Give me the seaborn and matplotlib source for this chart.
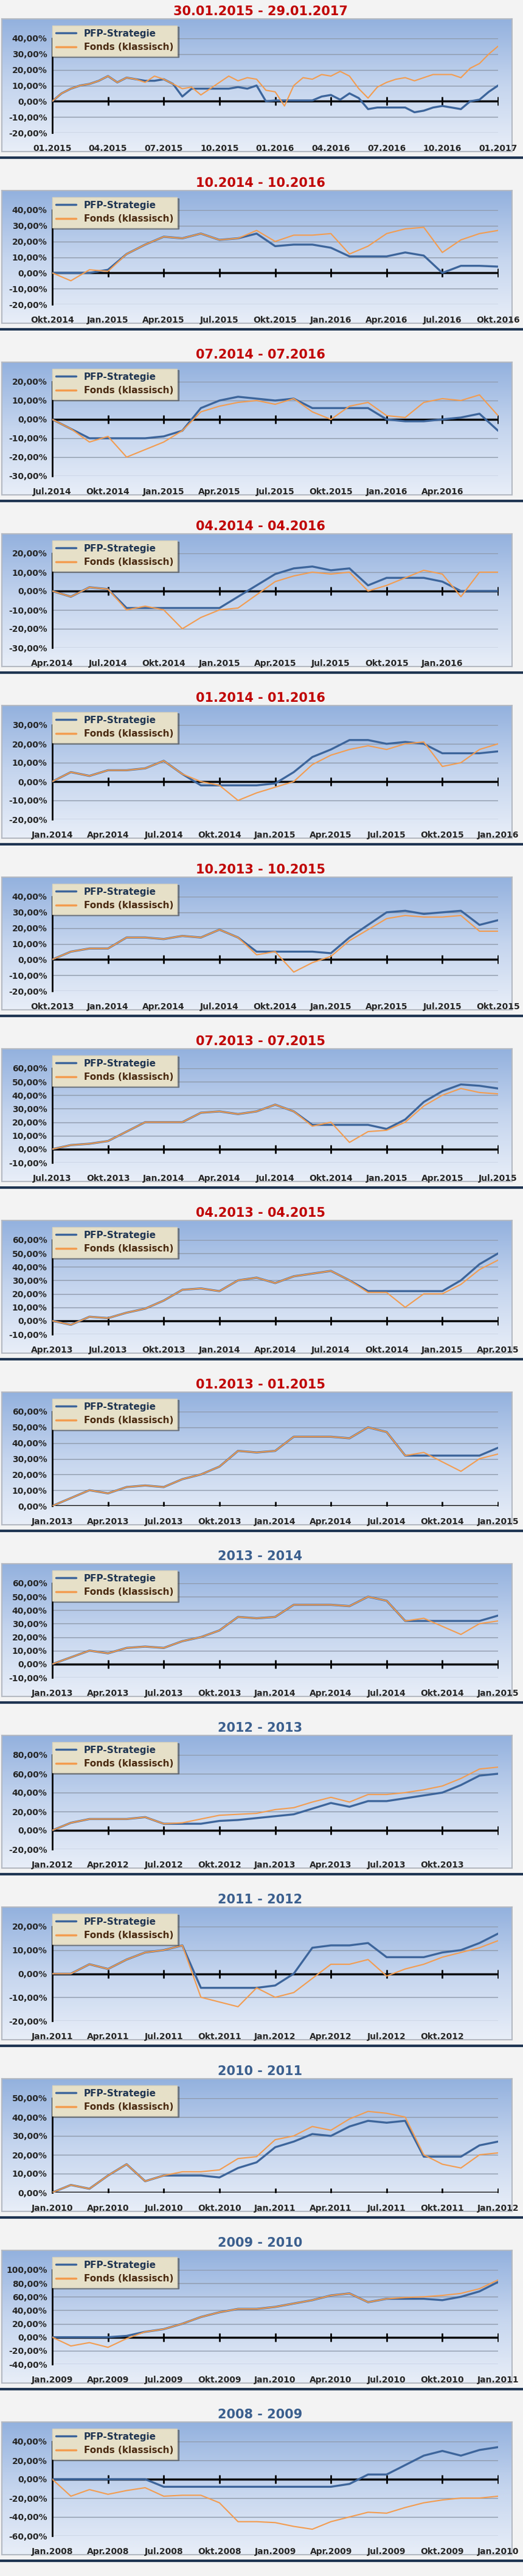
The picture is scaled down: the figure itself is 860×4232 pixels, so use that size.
import numpy as np
import matplotlib
matplotlib.use("Agg")
import matplotlib.pyplot as plt
import seaborn as sns
from matplotlib.colors import LinearSegmentedColormap

sns.set_style("white")
plt.rcParams['font.family'] = ['Liberation Sans Narrow', 'DejaVu Sans']

titles = ["30.01.2015 - 29.01.2017", "10.2014 - 10.2016", "07.2014 - 07.2016", "04.2014 - 04.2016",
          "01.2014 - 01.2016", "10.2013 - 10.2015", "07.2013 - 07.2015", "04.2013 - 04.2015",
          "01.2013 - 01.2015", "2013 - 2014", "2012 - 2013", "2011 - 2012", "2010 - 2011",
          "2009 - 2010", "2008 - 2009"]
title_colors = ["#c00000"] * 9 + ["#3b5f8e"] * 6

def q(prefix, y0, fmt):
    mons = {"num": ["01", "04", "07", "10"], "de": ["Jan.", "Apr.", "Jul.", "Okt."]}[fmt]
    start = {"01": 0, "04": 1, "07": 2, "10": 3}[prefix]
    out = []
    for k in range(9):
        idx = start + k
        m = mons[idx % 4]
        y = y0 + idx // 4
        out.append(f"{m}.{y}" if fmt == "num" else f"{m}{y}")
    return out

xlabels = [
    ["01.2015", "04.2015", "07.2015", "10.2015", "01.2016", "04.2016", "07.2016", "10.2016", "01.2017"],
    ["Okt.2014", "Jan.2015", "Apr.2015", "Jul.2015", "Okt.2015", "Jan.2016", "Apr.2016", "Jul.2016", "Okt.2016"],
    ["Jul.2014", "Okt.2014", "Jan.2015", "Apr.2015", "Jul.2015", "Okt.2015", "Jan.2016", "Apr.2016", ""],
    ["Apr.2014", "Jul.2014", "Okt.2014", "Jan.2015", "Apr.2015", "Jul.2015", "Okt.2015", "Jan.2016", ""],
    ["Jan.2014", "Apr.2014", "Jul.2014", "Okt.2014", "Jan.2015", "Apr.2015", "Jul.2015", "Okt.2015", "Jan.2016"],
    ["Okt.2013", "Jan.2014", "Apr.2014", "Jul.2014", "Okt.2014", "Jan.2015", "Apr.2015", "Jul.2015", "Okt.2015"],
    ["Jul.2013", "Okt.2013", "Jan.2014", "Apr.2014", "Jul.2014", "Okt.2014", "Jan.2015", "Apr.2015", "Jul.2015"],
    ["Apr.2013", "Jul.2013", "Okt.2013", "Jan.2014", "Apr.2014", "Jul.2014", "Okt.2014", "Jan.2015", "Apr.2015"],
    ["Jan.2013", "Apr.2013", "Jul.2013", "Okt.2013", "Jan.2014", "Apr.2014", "Jul.2014", "Okt.2014", "Jan.2015"],
    ["Jan.2013", "Apr.2013", "Jul.2013", "Okt.2013", "Jan.2014", "Apr.2014", "Jul.2014", "Okt.2014", "Jan.2015"],
    ["Jan.2012", "Apr.2012", "Jul.2012", "Okt.2012", "Jan.2013", "Apr.2013", "Jul.2013", "Okt.2013", ""],
    ["Jan.2011", "Apr.2011", "Jul.2011", "Okt.2011", "Jan.2012", "Apr.2012", "Jul.2012", "Okt.2012", ""],
    ["Jan.2010", "Apr.2010", "Jul.2010", "Okt.2010", "Jan.2011", "Apr.2011", "Jul.2011", "Okt.2011", "Jan.2012"],
    ["Jan.2009", "Apr.2009", "Jul.2009", "Okt.2009", "Jan.2010", "Apr.2010", "Jul.2010", "Okt.2010", "Jan.2011"],
    ["Jan.2008", "Apr.2008", "Jul.2008", "Okt.2008", "Jan.2009", "Apr.2009", "Jul.2009", "Okt.2009", "Jan.2010"],
]

y_ranges = [(-20, 40, 10), (-20, 40, 10), (-30, 20, 10), (-30, 20, 10), (-20, 30, 10),
            (-20, 40, 10), (-10, 60, 10), (-10, 60, 10), (0, 60, 10), (-10, 60, 10),
            (-20, 80, 20), (-20, 20, 10), (0, 50, 10), (-40, 100, 20), (-60, 40, 20)]

# Monthly (panel 1: half-monthly) cumulative performance in %
pfp = [
    [0, 5, 8, 10, 11, 13, 16, 12, 15, 14, 13, 13, 14, 11, 3, 8, 8, 8, 8, 8, 9, 8, 10, 0, 0.5, 0.5, 0.5, 0.5, 0.5,
     3, 4, 1, 5, 2, -5, -4, -4, -4, -4, -7, -6, -4, -3, -4, -5, 0, 1, 6, 10],
    [0, 0, 0, 2, 12, 18, 23, 22, 25, 21, 22, 25, 17, 18, 18, 16, 10.5, 10.5, 10.5, 13, 11, 0, 4.5, 4.5, 4],
    [0, -5, -10, -10, -10, -10, -9, -6, 6, 10, 12, 11, 10, 11, 6, 6, 6, 6, 0, -1, -1, 0, 1, 3, -6],
    [0, -3, 2, 1, -9, -9, -9, -9, -9, -9, -3, 3, 9, 12, 13, 11, 12, 3, 7, 7, 7, 5, 0, 0, 0],
    [0, 5, 3, 6, 6, 7, 11, 4, -2, -2, -2, -2, -1, 5, 13, 17, 22, 22, 20, 21, 20, 15, 15, 15, 16],
    [0, 5, 7, 7, 14, 14, 13, 15, 14, 19, 14, 5, 5, 5, 5, 4, 14, 22, 30, 31, 29, 30, 31, 22, 25],
    [0, 3, 4, 6, 13, 20, 20, 20, 27, 28, 26, 28, 33, 28, 18, 18, 18, 18, 15, 22, 35, 43, 48, 47, 45],
    [0, -3, 3, 2, 6, 9, 15, 23, 24, 22, 30, 32, 28, 33, 35, 37, 30, 22, 22, 22, 22, 22, 30, 42, 50],
    [0, 5, 10, 8, 12, 13, 12, 17, 20, 25, 35, 34, 35, 44, 44, 44, 43, 50, 47, 32, 32, 32, 32, 32, 37],
    [0, 5, 10, 8, 12, 13, 12, 17, 20, 25, 35, 34, 35, 44, 44, 44, 43, 50, 47, 32, 32, 32, 32, 32, 36],
    [0, 8, 12, 12, 12, 14, 7, 7, 7, 10, 11, 13, 15, 17, 23, 29, 25, 31, 31, 34, 37, 40, 48, 58, 60],
    [0, 0, 4, 2, 6, 9, 10, 12, -6, -6, -6, -6, -5, 0, 11, 12, 12, 13, 7, 7, 7, 9, 10, 13, 17],
    [0, 4, 2, 9, 15, 6, 9, 9, 9, 8, 13, 16, 24, 27, 31, 30, 35, 38, 37, 38, 19, 19, 19, 25, 27],
    [0, 0, 0, 0, 2, 8, 12, 20, 30, 37, 42, 42, 45, 50, 55, 62, 65, 52, 57, 57, 57, 55, 60, 68, 82],
    [0, 0, 0, 0, 0, 0, -8, -8, -8, -8, -8, -8, -8, -8, -8, -8, -5, 5, 5, 15, 25, 30, 25, 31, 34],
]
fonds = [
    [0, 5, 8, 10, 11, 13, 16, 12, 15, 14, 12, 16, 14, 11, 8, 9, 4, 8, 12, 16, 13, 15, 14, 7, 6, -3, 10, 15, 14,
     17, 16, 19, 16, 8, 2, 9, 12, 14, 15, 13, 15, 17, 17, 17, 15, 21, 24, 30, 35],
    [0, -5, 2, 1, 12, 18, 23, 22, 25, 21, 22, 27, 20, 24, 24, 25, 12, 17, 25, 28, 29, 13, 21, 25, 27],
    [0, -5, -12, -9, -20, -16, -12, -6, 4, 7, 9, 10, 8, 11, 4, 0, 7, 9, 2, 1, 9, 11, 10, 13, 2],
    [0, -3, 2, 1, -10, -8, -10, -20, -14, -10, -9, -2, 5, 8, 10, 9, 10, 0, 3, 7, 11, 9, -3, 10, 10],
    [0, 5, 3, 6, 6, 7, 11, 4, 0, -2, -10, -6, -3, 0, 9, 14, 17, 19, 17, 20, 21, 8, 10, 17, 20],
    [0, 5, 7, 7, 14, 14, 13, 15, 14, 19, 14, 3, 5, -8, -2, 2, 12, 19, 26, 28, 27, 27, 28, 18, 18],
    [0, 3, 4, 6, 13, 20, 20, 20, 27, 28, 26, 28, 33, 28, 17, 20, 5, 13, 14, 20, 32, 40, 45, 42, 41],
    [0, -3, 3, 2, 6, 9, 15, 23, 24, 22, 30, 32, 28, 33, 35, 37, 30, 21, 21, 10, 20, 20, 27, 38, 45],
    [0, 5, 10, 8, 12, 13, 12, 17, 20, 25, 35, 34, 35, 44, 44, 44, 43, 50, 47, 32, 34, 28, 22, 30, 33],
    [0, 5, 10, 8, 12, 13, 12, 17, 20, 25, 35, 34, 35, 44, 44, 44, 43, 50, 47, 32, 34, 28, 22, 30, 32],
    [0, 8, 12, 12, 12, 14, 7, 8, 12, 16, 17, 18, 22, 24, 30, 35, 30, 38, 38, 40, 43, 47, 55, 65, 67],
    [0, 0, 4, 2, 6, 9, 10, 12, -10, -12, -14, -6, -10, -8, -2, 4, 4, 6, -1, 2, 4, 7, 9, 11, 14],
    [0, 4, 2, 9, 15, 6, 9, 11, 11, 12, 18, 19, 28, 30, 35, 33, 39, 43, 42, 40, 20, 15, 13, 20, 21],
    [0, -13, -8, -15, -2, 8, 12, 20, 30, 37, 42, 42, 45, 50, 55, 62, 65, 52, 57, 59, 60, 62, 65, 72, 85],
    [0, -18, -11, -16, -12, -9, -18, -17, -17, -25, -45, -45, -46, -50, -53, -45, -40, -35, -36, -30, -25, -22,
     -20, -20, -18],
]

W, H = 860, 4232
fig = plt.figure(figsize=(W / 100, H / 100), dpi=100)
fig.patch.set_facecolor("#f3f3f3")

def fx(px): return px / W
def fy(py): return 1 - py / H

grad = LinearSegmentedColormap.from_list("g", ["#93b1de", "#c5d5ee", "#e8eef8"])
month_ticks = np.arange(0, 25, 3)
BLUE, ORANGE = "#3d659b", "#f39c4f"

for i in range(15):
    o = i * 282
    # title
    fig.text(fx(428), fy(o + 19), titles[i], ha="center", va="center", fontsize=15,
             fontweight="bold", color=title_colors[i])
    # chart box with gradient
    bx = fig.add_axes([fx(3), fy(o + 249), fx(842) - fx(3), (249 - 31) / H])
    bx.imshow(np.linspace(0, 1, 256).reshape(-1, 1), aspect="auto", cmap=grad, extent=[0, 1, 0, 1])
    bx.set_xticks([]); bx.set_yticks([])
    for s in bx.spines.values():
        s.set_color("#b4b9c2"); s.set_linewidth(1.5)
    # separator
    fig.add_artist(plt.Line2D([0, 1], [fy(o + 259), fy(o + 259)], color="#1f3552", lw=3))

    ax = fig.add_axes([fx(86), fy(o + 218), fx(819) - fx(86), (218 - 63) / H])
    ax.patch.set_alpha(0)
    lo, hi, st = y_ranges[i]
    yt = np.arange(lo, hi + st / 2, st)
    for v in yt:
        if v != 0:
            ax.axhline(v, color="#8e99aa", lw=1, zorder=1)
    p = np.array(pfp[i], float); f = np.array(fonds[i], float)
    xm = np.linspace(0, 24, len(p))
    sns.lineplot(x=xm, y=p, ax=ax, color=BLUE, lw=2.4, label="PFP-Strategie", zorder=3)
    sns.lineplot(x=xm, y=f, ax=ax, color=ORANGE, lw=1.5, label="Fonds (klassisch)", zorder=4)
    ax.axhline(0, color="black", lw=2.5, zorder=2)
    ax.plot(month_ticks, np.zeros_like(month_ticks), ls="none", marker="|", ms=10, mew=2,
            color="black", zorder=2)
    ax.set_xlim(0, 24)
    ax.set_ylim(lo, hi)
    ax.set_yticks(yt)
    ax.set_yticklabels([f"{v:.2f}".replace(".", ",") + "%" for v in yt], fontsize=10, fontweight="bold")
    ax.set_xticks(month_ticks)
    ax.set_xticklabels(xlabels[i], fontsize=10, fontweight="bold")
    ax.tick_params(axis="both", length=0)
    ax.tick_params(axis="x", pad=14)
    ax.tick_params(axis="y", pad=6)
    for k in ["top", "right", "bottom"]:
        ax.spines[k].set_visible(False)
    ax.spines["left"].set_color("black"); ax.spines["left"].set_linewidth(2)
    ax.spines["left"].set_bounds(lo, hi + st * 0.3)
    ax.set_ylim(lo, hi)
    ax.spines["left"].set_bounds(lo, hi)
    leg = ax.legend(loc="upper left", bbox_to_anchor=(fx(78), fy(o + 34)),
                    bbox_transform=fig.transFigure, frameon=True, fancybox=False, shadow=True,
                    fontsize=11, handlelength=2.2, borderpad=0.4, labelspacing=0.5)
    leg.get_frame().set_facecolor("#e6e0c8"); leg.get_frame().set_edgecolor("#d8d2bc")
    for t, c in zip(leg.get_texts(), ["#1f3552", "#4a2a10"]):
        t.set_color(c); t.set_fontweight("bold")
    for h in leg.get_lines():
        h.set_linewidth(2.5)
    leg.set_zorder(10)

fig.savefig("out.png", dpi=100, facecolor=fig.get_facecolor())
